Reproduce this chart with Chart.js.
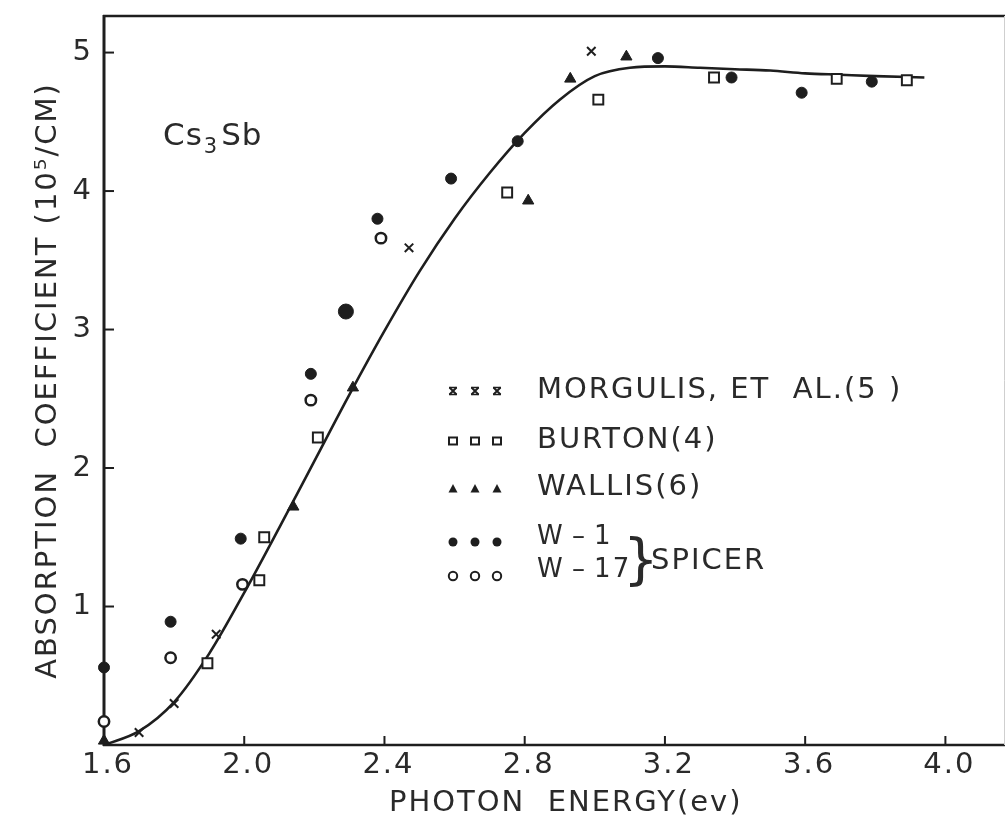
<!DOCTYPE html>
<html>
<head>
<meta charset="utf-8">
<script src="https://cdn.jsdelivr.net/npm/chart.js@4.4.1/dist/chart.umd.min.js"></script>
<style>
  html, body { margin: 0; padding: 0; background: #ffffff; }
  #wrap { width: 1006px; height: 818px; position: relative; }
</style>
</head>
<body>
<div id="wrap"><canvas id="chart" width="1006" height="818"></canvas></div>
<script>
// Cs3Sb optical absorption: photon energy (eV) vs absorption coefficient (10^5 / cm)

// Smooth fitted curve
const curveEnergy = [1.6, 1.7, 1.8, 1.9, 2.0, 2.1, 2.2, 2.3, 2.4, 2.5, 2.6, 2.7, 2.8, 2.9, 3.0, 3.1, 3.2, 3.3, 3.4, 3.5, 3.6, 3.7, 3.8, 3.94];
const curveAbsorption = [0.0, 0.10, 0.31, 0.66, 1.10, 1.57, 2.05, 2.53, 2.99, 3.42, 3.80, 4.13, 4.42, 4.66, 4.83, 4.89, 4.90, 4.89, 4.88, 4.87, 4.85, 4.84, 4.83, 4.82];

// Morgulis et al. (5)
const morgulisEnergy = [1.70, 1.80, 1.92, 2.47, 2.99];
const morgulisAbsorption = [0.09, 0.30, 0.80, 3.59, 5.01];

// Burton (4)
const burtonEnergy = [1.895, 2.043, 2.057, 2.21, 2.75, 3.01, 3.34, 3.69, 3.89];
const burtonAbsorption = [0.59, 1.19, 1.50, 2.22, 3.99, 4.66, 4.82, 4.81, 4.80];

// Wallis (6)
const wallisEnergy = [1.6, 2.14, 2.31, 2.81, 2.93, 3.09];
const wallisAbsorption = [0.03, 1.72, 2.58, 3.93, 4.81, 4.97];

// Spicer, sample W-1
const w1Energy = [1.6, 1.79, 1.99, 2.19, 2.29, 2.38, 2.59, 2.78, 3.18, 3.39, 3.59, 3.79];
const w1Absorption = [0.56, 0.89, 1.49, 2.68, 3.13, 3.80, 4.09, 4.36, 4.96, 4.82, 4.71, 4.79];

// Spicer, sample W-17
const w17Energy = [1.6, 1.79, 1.995, 2.19, 2.39];
const w17Absorption = [0.17, 0.63, 1.16, 2.49, 3.66];

// Axis ticks
const xTickValues = [1.6, 2.0, 2.4, 2.8, 3.2, 3.6, 4.0];
const yTickValues = [1, 2, 3, 4, 5];

const INK = '#1e1e1e';
const TEXT = '#2a2a2a';
const FONT = 'DejaVu Sans';

function pairs(xs, ys) { return xs.map((x, i) => ({ x: x, y: ys[i] })); }

// Small marker painter used for the key
function paintMarker(ctx, kind, x, y) {
  ctx.save();
  ctx.strokeStyle = INK;
  ctx.fillStyle = INK;
  ctx.lineWidth = 2;
  ctx.beginPath();
  if (kind === 'cross') {
    const d = 3.5;
    ctx.moveTo(x - d, y - d); ctx.lineTo(x + d, y + d);
    ctx.moveTo(x + d, y - d); ctx.lineTo(x - d, y + d);
    ctx.stroke();
    ctx.lineWidth = 1.5;
    ctx.beginPath();
    ctx.moveTo(x - d - 0.5, y - d); ctx.lineTo(x + d + 0.5, y - d);
    ctx.moveTo(x - d - 0.5, y + d); ctx.lineTo(x + d + 0.5, y + d);
    ctx.stroke();
  } else if (kind === 'square') {
    ctx.fillStyle = '#fff';
    ctx.rect(x - 4, y - 3.5, 8, 7);
    ctx.fill(); ctx.stroke();
  } else if (kind === 'triangle') {
    ctx.moveTo(x, y - 5); ctx.lineTo(x + 4.5, y + 3.5); ctx.lineTo(x - 4.5, y + 3.5);
    ctx.closePath(); ctx.fill();
  } else if (kind === 'dot') {
    ctx.arc(x, y, 4.5, 0, Math.PI * 2); ctx.fill();
  } else if (kind === 'ring') {
    ctx.fillStyle = '#fff';
    ctx.arc(x, y, 4.2, 0, Math.PI * 2); ctx.fill(); ctx.stroke();
  }
  ctx.restore();
}

const framePlugin = {
  id: 'frame',
  beforeDraw(chart) {
    const ctx = chart.ctx;
    ctx.letterSpacing = '2px';
    ctx.save();
    ctx.fillStyle = '#ffffff';
    ctx.fillRect(0, 0, chart.width, chart.height);
    ctx.restore();
  },
  beforeDatasetsDraw(chart) {
    const ctx = chart.ctx;
    const a = chart.chartArea;
    const xs = chart.scales.x, ys = chart.scales.y;
    ctx.save();
    ctx.strokeStyle = INK;
    ctx.lineCap = 'butt';
    // left axis
    ctx.lineWidth = 3;
    ctx.beginPath(); ctx.moveTo(a.left, a.top - 1); ctx.lineTo(a.left, a.bottom + 1); ctx.stroke();
    // top border
    ctx.lineWidth = 2.5;
    ctx.beginPath(); ctx.moveTo(a.left - 1, a.top); ctx.lineTo(a.right, a.top); ctx.stroke();
    // bottom axis
    ctx.beginPath(); ctx.moveTo(a.left - 1, a.bottom); ctx.lineTo(a.right, a.bottom); ctx.stroke();
    // right border (faint)
    ctx.strokeStyle = '#cfcfcf';
    ctx.lineWidth = 1;
    ctx.beginPath(); ctx.moveTo(a.right - 0.5, a.top); ctx.lineTo(a.right - 0.5, a.bottom); ctx.stroke();
    // inward tick marks
    ctx.strokeStyle = INK;
    ctx.lineWidth = 2;
    yTickValues.forEach(v => {
      const py = ys.getPixelForValue(v);
      ctx.beginPath(); ctx.moveTo(a.left, py); ctx.lineTo(a.left + 10, py); ctx.stroke();
    });
    xTickValues.forEach(v => {
      const px = xs.getPixelForValue(v);
      ctx.beginPath(); ctx.moveTo(px, a.bottom); ctx.lineTo(px, a.bottom - 9); ctx.stroke();
    });
    ctx.restore();
  },
  afterDraw(chart) {
    const ctx = chart.ctx;
    ctx.save();
    ctx.fillStyle = TEXT;
    ctx.textBaseline = 'alphabetic';
    ctx.textAlign = 'left';

    // Compound label
    ctx.letterSpacing = '1px';
    ctx.font = '31px "' + FONT + '"';
    let x = 163;
    ctx.fillText('Cs', x, 145);
    x += ctx.measureText('Cs').width + 1;
    ctx.font = '21px "' + FONT + '"';
    ctx.fillText('3', x, 153);
    x += ctx.measureText('3').width + 3;
    ctx.font = '31px "' + FONT + '"';
    ctx.fillText('Sb', x, 145);

    // Key
    ctx.letterSpacing = '2px';
    const rows = [
      { kind: 'cross', my: 391, text: 'MORGULIS, ET  AL.(5 )', base: 398, size: 29 },
      { kind: 'square', my: 441, text: 'BURTON(4)', base: 448, size: 29 },
      { kind: 'triangle', my: 489, text: 'WALLIS(6)', base: 495, size: 29 },
      { kind: 'dot', my: 542, text: 'W\u2009\u2013\u20091', base: 544, size: 26 },
      { kind: 'ring', my: 576, text: 'W\u2009\u2013\u200917', base: 577, size: 26 }
    ];
    rows.forEach(r => {
      [453, 475, 497].forEach(mx => paintMarker(ctx, r.kind, mx, r.my));
      ctx.font = r.size + 'px "' + FONT + '"';
      ctx.fillText(r.text, 537, r.base);
    });
    ctx.letterSpacing = '0px';
    ctx.font = '56px "' + FONT + '"';
    ctx.fillText('}', 623, 578);
    ctx.letterSpacing = '2px';
    ctx.font = '29px "' + FONT + '"';
    ctx.fillText('SPICER', 651, 569);
    ctx.restore();
  }
};

const scatterBase = { type: 'scatter', clip: false, order: 0, showLine: false };

new Chart(document.getElementById('chart'), {
  data: {
    datasets: [
      {
        type: 'line', label: 'fit', order: 10,
        data: pairs(curveEnergy, curveAbsorption),
        borderColor: INK, borderWidth: 2.6, pointRadius: 0,
        fill: false, cubicInterpolationMode: 'monotone'
      },
      Object.assign({}, scatterBase, {
        label: 'MORGULIS, ET AL.(5)', data: pairs(morgulisEnergy, morgulisAbsorption),
        pointStyle: 'crossRot', pointRadius: 6, borderColor: INK, borderWidth: 2
      }),
      Object.assign({}, scatterBase, {
        label: 'BURTON(4)', data: pairs(burtonEnergy, burtonAbsorption),
        pointStyle: 'rect', pointRadius: 7, borderColor: INK, backgroundColor: '#ffffff', borderWidth: 2
      }),
      Object.assign({}, scatterBase, {
        label: 'WALLIS(6)', data: pairs(wallisEnergy, wallisAbsorption),
        pointStyle: 'triangle', pointRadius: 6.5, borderColor: INK, backgroundColor: INK, borderWidth: 1
      }),
      Object.assign({}, scatterBase, {
        label: 'W-1', data: pairs(w1Energy, w1Absorption),
        pointStyle: 'circle', pointRadius: ctx => (ctx.dataIndex === 4 ? 7.5 : 5.5),
        borderColor: INK, backgroundColor: INK, borderWidth: 1
      }),
      Object.assign({}, scatterBase, {
        label: 'W-17', data: pairs(w17Energy, w17Absorption),
        pointStyle: 'circle', pointRadius: 5.2, borderColor: INK, backgroundColor: '#ffffff', borderWidth: 2.5
      })
    ]
  },
  options: {
    responsive: false,
    animation: false,
    layout: { autoPadding: false, padding: { top: 16, right: 1, left: 0, bottom: 0 } },
    plugins: { legend: { display: false }, tooltip: { enabled: false } },
    scales: {
      x: {
        type: 'linear', min: 1.6, max: 4.17,
        afterBuildTicks: s => { s.ticks = xTickValues.map(v => ({ value: v })); },
        afterFit: s => { s.height = 73; s.paddingLeft = 0; s.paddingRight = 0; },
        grid: { display: false, drawTicks: false },
        border: { display: false },
        ticks: {
          callback: v => Number(v).toFixed(1),
          font: { family: FONT, size: 29 }, color: TEXT,
          padding: 3, labelOffset: 4, maxRotation: 0, autoSkip: false
        },
        title: {
          display: true, text: '  PHOTON  ENERGY(ev)', color: TEXT,
          font: { family: FONT, size: 29, lineHeight: 1 }, padding: { top: 0, bottom: 0 }
        }
      },
      y: {
        type: 'linear', min: 0, max: 5.264,
        afterBuildTicks: s => { s.ticks = yTickValues.map(v => ({ value: v })); },
        afterFit: s => { s.width = 104; s.paddingTop = 0; s.paddingBottom = 0; },
        grid: { display: false, drawTicks: false },
        border: { display: false },
        ticks: {
          font: { family: FONT, size: 29 }, color: TEXT, padding: 11
        },
        title: {
          display: true, text: 'ABSORPTION  COEFFICIENT (10\u2075/CM)', color: TEXT,
          font: { family: FONT, size: 29, lineHeight: 1.2 }, padding: { top: 31, bottom: 0 }
        }
      }
    }
  },
  plugins: [framePlugin]
});
</script>
</body>
</html>
